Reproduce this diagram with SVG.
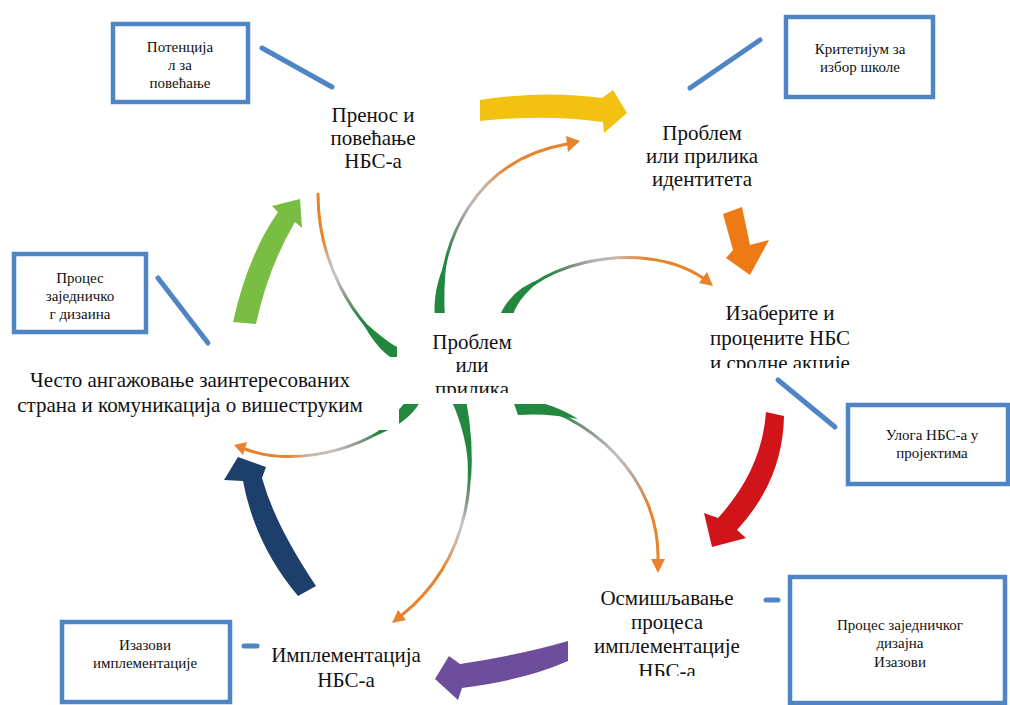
<svg xmlns="http://www.w3.org/2000/svg" width="1010" height="705" viewBox="0 0 1010 705">
<style>
.lbl{font-family:'Liberation Serif','DejaVu Serif',serif;font-size:21px;fill:#111;text-anchor:middle}
.btxt{font-family:'Liberation Serif','DejaVu Serif',serif;font-size:15px;fill:#111;text-anchor:middle}
.frame{fill:#fff;stroke:#4f85c4;stroke-width:4.5}
.link{stroke:#4f85c4;stroke-width:5;stroke-linecap:round;fill:none}
.thin{fill:none;stroke-width:3;stroke-linecap:round}
.tail{fill:#23883f}
.head{fill:#e8822b}
.cover{fill:#fff}
</style>
<defs>
<linearGradient id="gT" gradientUnits="userSpaceOnUse" x1="440" y1="318" x2="567" y2="144">
<stop offset="0" stop-color="#23883f"/><stop offset="0.25" stop-color="#23883f"/><stop offset="0.38" stop-color="#7f8f80"/><stop offset="0.5" stop-color="#b5b5b5"/><stop offset="0.6" stop-color="#c9b5a5"/><stop offset="0.75" stop-color="#e8822b"/><stop offset="1" stop-color="#e8822b"/>
</linearGradient>
<linearGradient id="gR" gradientUnits="userSpaceOnUse" x1="505" y1="320" x2="703" y2="278">
<stop offset="0" stop-color="#23883f"/><stop offset="0.25" stop-color="#23883f"/><stop offset="0.38" stop-color="#7f8f80"/><stop offset="0.5" stop-color="#b5b5b5"/><stop offset="0.6" stop-color="#c9b5a5"/><stop offset="0.75" stop-color="#e8822b"/><stop offset="1" stop-color="#e8822b"/>
</linearGradient>
<linearGradient id="gBR" gradientUnits="userSpaceOnUse" x1="513" y1="400" x2="658" y2="560">
<stop offset="0" stop-color="#23883f"/><stop offset="0.18" stop-color="#23883f"/><stop offset="0.32" stop-color="#7f8f80"/><stop offset="0.5" stop-color="#c0c0c0"/><stop offset="0.65" stop-color="#b8a090"/><stop offset="0.8" stop-color="#e8822b"/><stop offset="1" stop-color="#e8822b"/>
</linearGradient>
<linearGradient id="gB" gradientUnits="userSpaceOnUse" x1="458" y1="408" x2="402" y2="615">
<stop offset="0" stop-color="#23883f"/><stop offset="0.28" stop-color="#23883f"/><stop offset="0.4" stop-color="#7f8f80"/><stop offset="0.52" stop-color="#c8c8c8"/><stop offset="0.62" stop-color="#c9b5a5"/><stop offset="0.75" stop-color="#e8822b"/><stop offset="1" stop-color="#e8822b"/>
</linearGradient>
<linearGradient id="gL" gradientUnits="userSpaceOnUse" x1="412" y1="405" x2="245" y2="449">
<stop offset="0" stop-color="#23883f"/><stop offset="0.2" stop-color="#23883f"/><stop offset="0.35" stop-color="#8a958a"/><stop offset="0.5" stop-color="#c0c0c0"/><stop offset="0.65" stop-color="#c9b5a5"/><stop offset="0.78" stop-color="#e8822b"/><stop offset="1" stop-color="#e8822b"/>
</linearGradient>
<linearGradient id="g6" gradientUnits="userSpaceOnUse" x1="400" y1="358" x2="318" y2="190">
<stop offset="0" stop-color="#23883f"/><stop offset="0.28" stop-color="#23883f"/><stop offset="0.42" stop-color="#8a958a"/><stop offset="0.55" stop-color="#c8c8c8"/><stop offset="0.65" stop-color="#c9b5a5"/><stop offset="0.75" stop-color="#e8822b"/><stop offset="1" stop-color="#e8822b"/>
</linearGradient>
<clipPath id="clipIzab"><rect x="600" y="280" width="300" height="88"/></clipPath>
<clipPath id="clipCenter"><rect x="380" y="300" width="200" height="93"/></clipPath>
<clipPath id="clipOsm"><rect x="560" y="570" width="220" height="106"/></clipPath>
</defs>
<rect width="1010" height="705" fill="#fff"/>

<g id="connectors">
  <g id="center-arcs">
    <path class="thin" stroke="url(#gT)" d="M440,318 C438,240 475,160 567,144"/>
    <path class="tail" d="M435,318 Q432,290 447,258 Q443,290 445,318 Z"/>
    <polygon class="head" points="580,141 566,136 568,152"/>

    <path class="thin" stroke="url(#gR)" d="M505,320 C520,265 640,235 703,278"/>
    <path class="tail" d="M498,320 Q509,289 543,278 Q514,301 512,320 Z"/>
    <polygon class="head" points="713,286 699,283 707,272"/>

    <path class="thin" stroke="url(#gBR)" d="M513,400 C590,412 660,478 658,560"/>
    <path class="tail" d="M512,398 Q548,400 578,419 Q548,413 518,415 Z"/>
    <polygon class="head" points="658,573 651,559 665,559"/>

    <path class="thin" stroke="url(#gB)" d="M458,408 C482,470 470,560 402,615"/>
    <path class="tail" d="M451,400 Q466,430 471,482 Q474,440 466,400 Z"/>
    <polygon class="head" points="392,623 406,620 398,610"/>

    <path class="thin" stroke="url(#gL)" d="M412,405 C380,445 300,470 245,449"/>
    <path class="tail" d="M405,402 Q399,411 372,437 Q408,424 420,402 Z"/>
    <polygon class="head" points="234,445 247,442 243,455"/>

    <path class="thin" stroke="url(#g6)" d="M400,358 C350,320 318,260 318,194"/>
    <path class="tail" d="M400,348 Q391,346 360,318 Q379,355 400,362 Z"/>
  </g>
  <g id="cycle-arrows">
    <path fill="#f3c111" d="M480,100 Q545,90 602,98 L613,90 L627,113 L604,133 L603,122 Q545,114 480,121 Z"/>
    <path fill="#ee7a16" d="M723,214 L742,207 L750,245 L769,240 L750,275 L726,258 L733,250 Z"/>
    <path fill="#d1141a" d="M766,412 L784,416 Q783,480 737,530 L746,538 L712,547 L704,513 L718,518 Q762,470 766,412 Z"/>
    <path fill="#6c4e9c" d="M568,641 Q520,655 460,664 L449,656 L435,679 L458,700 L462,688 Q525,680 568,661 Z"/>
    <path fill="#1c3f6c" d="M298,596 L316,586 Q275,525 262,478 L266,467 L238,457 L224,480 L243,481 Q255,545 298,596 Z"/>
    <path fill="#7abd43" d="M233,322 Q248,255 278,212 L272,206 L300,199 L302,228 L295,222 Q268,268 256,324 Z"/>
  </g>
  <g id="box-links">
    <line class="link" x1="262" y1="48" x2="332" y2="87"/>
    <line class="link" x1="690" y1="88" x2="760" y2="40"/>
    <line class="link" x1="158" y1="278" x2="208" y2="343"/>
    <line class="link" x1="778" y1="380" x2="835" y2="427"/>
    <line class="link" x1="244" y1="646" x2="257" y2="646"/>
    <line class="link" x1="766" y1="600" x2="778" y2="600"/>
  </g>
</g>

<rect class="cover" x="397" y="313" width="150" height="91"/>
<rect class="cover" x="0" y="357" width="399" height="73"/>

<g id="n-transfer"><text class="lbl"><tspan x="373" y="122">Пренос и</tspan><tspan x="373" y="145">повећање</tspan><tspan x="373" y="168">НБС-а</tspan></text></g>
<g id="n-identity"><text class="lbl"><tspan x="702" y="140">Проблем</tspan><tspan x="702" y="163">или прилика</tspan><tspan x="702" y="186">идентитета</tspan></text></g>
<g id="n-select"><text class="lbl" clip-path="url(#clipIzab)"><tspan x="780" y="320">Изаберите и</tspan><tspan x="780" y="345">процените НБС</tspan><tspan x="780" y="370">и сродне акције</tspan></text></g>
<g id="n-center"><text class="lbl" clip-path="url(#clipCenter)"><tspan x="472" y="349">Проблем</tspan><tspan x="472" y="372">или</tspan><tspan x="472" y="396">прилика</tspan></text></g>
<g id="n-design"><text class="lbl" clip-path="url(#clipOsm)"><tspan x="667" y="605">Осмишљавање</tspan><tspan x="667" y="629">процеса</tspan><tspan x="667" y="653">имплементације</tspan><tspan x="667" y="678">НБС-а</tspan></text></g>
<g id="n-implement"><text class="lbl"><tspan x="346" y="662">Имплементација</tspan><tspan x="346" y="687">НБС-а</tspan></text></g>
<g id="n-engage"><text class="lbl"><tspan x="190" y="387">Често ангажовање заинтересованих</tspan><tspan x="190" y="412">страна и комуникација о вишеструким</tspan></text></g>

<g id="b-potential"><rect class="frame" x="113" y="24" width="135" height="78"/><text class="btxt"><tspan x="180" y="52">Потенција</tspan><tspan x="180" y="70">л за</tspan><tspan x="180" y="88">повећање</tspan></text></g>
<g id="b-criteria"><rect class="frame" x="786" y="17" width="147" height="80"/><text class="btxt"><tspan x="860" y="54">Критетијум за</tspan><tspan x="860" y="72">избор школе</tspan></text></g>
<g id="b-codesign"><rect class="frame" x="14" y="254" width="132" height="78"/><text class="btxt"><tspan x="80" y="283">Процес</tspan><tspan x="80" y="301">заједничко</tspan><tspan x="80" y="319">г дизаина</tspan></text></g>
<g id="b-role"><rect class="frame" x="848" y="405" width="160" height="79"/><text class="btxt"><tspan x="932" y="440">Улога НБС-а у</tspan><tspan x="932" y="458">пројектима</tspan></text></g>
<g id="b-challenges"><rect class="frame" x="62" y="622" width="168" height="80"/><text class="btxt"><tspan x="145" y="650">Изазови</tspan><tspan x="145" y="668">имплементације</tspan></text></g>
<g id="b-codesign2"><rect class="frame" x="790" y="577" width="215" height="126"/><text class="btxt"><tspan x="900" y="630">Процес заједничког</tspan><tspan x="900" y="648">дизајна</tspan><tspan x="900" y="667">Изазови</tspan></text></g>
</svg>
